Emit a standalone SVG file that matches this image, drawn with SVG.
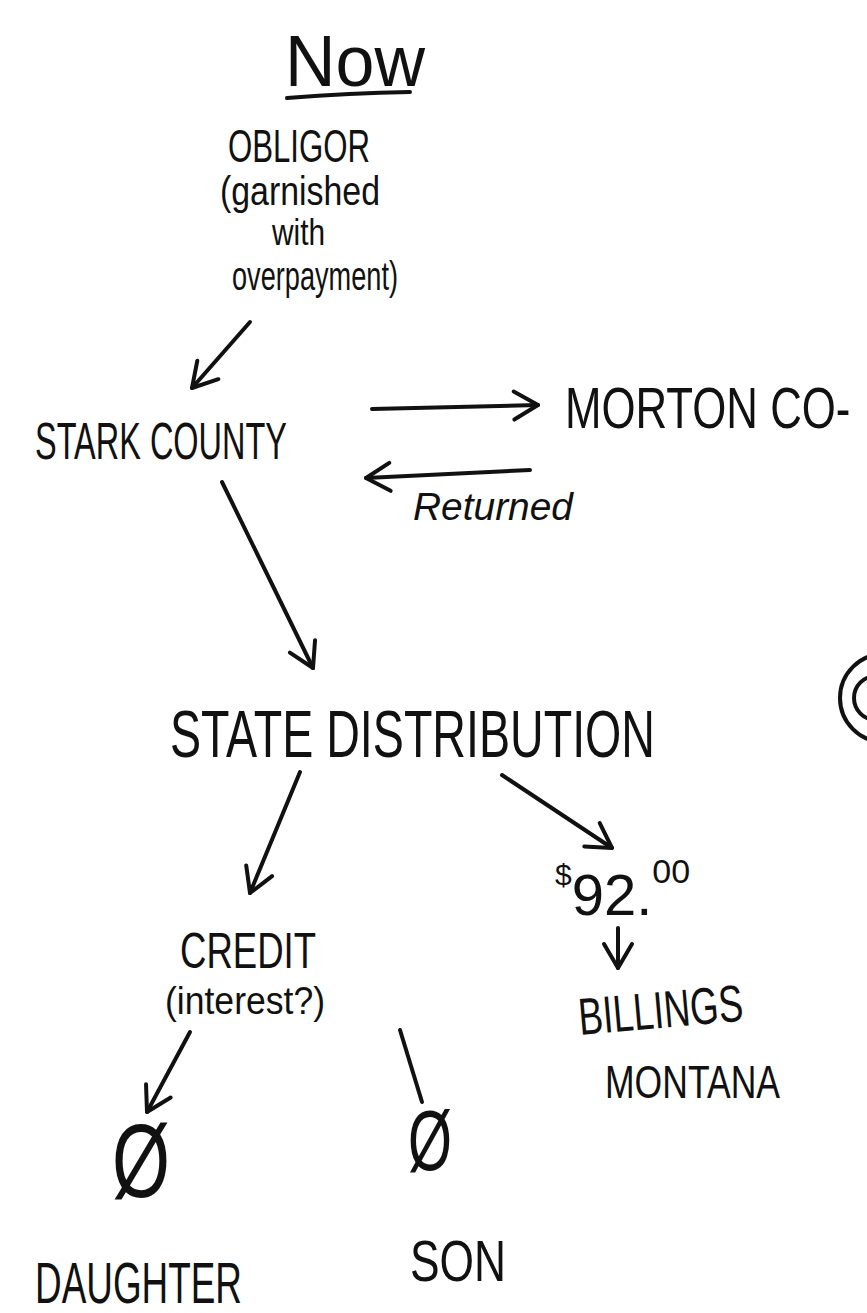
<svg xmlns="http://www.w3.org/2000/svg" width="867" height="1313" viewBox="0 0 867 1313">
<style>
text{font-family:"Liberation Sans",Arial,sans-serif;fill:#111;}
.c{stroke:#111;stroke-width:4;fill:none;stroke-linecap:round;}
.arr{marker-end:url(#ah);}
</style>
<defs>
<marker id="ah" markerUnits="userSpaceOnUse" viewBox="-30 -20 36 40" refX="0" refY="0" markerWidth="36" markerHeight="40" orient="auto">
<path d="M-24,-14 L0,0 L-24,14" fill="none" stroke="#111" stroke-width="4" stroke-linecap="round" stroke-linejoin="round"/>
</marker>
</defs>
<rect width="867" height="1313" fill="#fff"/>
<g id="title">
<text x="285" y="86" font-size="72" textLength="140" lengthAdjust="spacingAndGlyphs">Now</text>
<path class="c" d="M287,98 Q350,93 410,92"/>
</g>
<g id="obligor">
<text x="228" y="162" font-size="47" textLength="142" lengthAdjust="spacingAndGlyphs">OBLIGOR</text>
<text x="220" y="205" font-size="40" textLength="160" lengthAdjust="spacingAndGlyphs">(garnished</text>
<text x="272" y="245" font-size="36" textLength="53" lengthAdjust="spacingAndGlyphs">with</text>
<text x="232" y="290" font-size="40" textLength="166" lengthAdjust="spacingAndGlyphs">overpayment)</text>
</g>
<g id="stark">
<text x="35" y="459" font-size="52" textLength="252" lengthAdjust="spacingAndGlyphs">STARK COUNTY</text>
</g>
<g id="morton">
<text x="0" y="0" font-size="58" transform="translate(565,428) scale(0.755,1)">MORTON CO-</text>
</g>
<g id="state">
<text x="170" y="757" font-size="66" textLength="485" lengthAdjust="spacingAndGlyphs">STATE DISTRIBUTION</text>
</g>
<g id="credit">
<text x="180" y="968" font-size="50" textLength="136" lengthAdjust="spacingAndGlyphs">CREDIT</text>
<text x="165" y="1014" font-size="38" textLength="160" lengthAdjust="spacingAndGlyphs">(interest?)</text>
</g>
<g id="amount">
<text x="555" y="915" font-size="58"><tspan font-size="30" dy="-30">$</tspan><tspan dy="30">92.</tspan><tspan font-size="34" dy="-32">00</tspan></text>
</g>
<g id="billings">
<text x="580" y="1035" font-size="52" textLength="165" lengthAdjust="spacingAndGlyphs" transform="rotate(-5 580 1035)">BILLINGS</text>
<text x="605" y="1098" font-size="46" textLength="175" lengthAdjust="spacingAndGlyphs">MONTANA</text>
</g>
<g id="daughter">
<text x="112" y="1197" font-size="104" textLength="58" lengthAdjust="spacingAndGlyphs">Ø</text>
<text x="35" y="1303" font-size="58" textLength="207" lengthAdjust="spacingAndGlyphs">DAUGHTER</text>
</g>
<g id="son">
<text x="408" y="1170" font-size="86" textLength="44" lengthAdjust="spacingAndGlyphs">Ø</text>
<text x="410" y="1281" font-size="58" textLength="96" lengthAdjust="spacingAndGlyphs">SON</text>
</g>
<g id="mark">
<circle cx="884" cy="698" r="44" class="c" stroke-width="5"/>
<circle cx="876" cy="698" r="22" class="c" stroke-width="5"/>
</g>
<g id="connectors">
<line class="c arr" x1="250" y1="322" x2="192" y2="388"/>
<line class="c arr" x1="372" y1="409" x2="538" y2="405"/>
<line class="c arr" x1="530" y1="470" x2="366" y2="478"/>
<text x="413" y="520" font-size="38" font-style="italic" textLength="160" lengthAdjust="spacingAndGlyphs">Returned</text>
<line class="c arr" x1="222" y1="482" x2="313" y2="668"/>
<line class="c arr" x1="300" y1="772" x2="250" y2="893"/>
<line class="c arr" x1="502" y1="775" x2="612" y2="848"/>
<line class="c arr" x1="618" y1="928" x2="618" y2="968"/>
<line class="c arr" x1="190" y1="1032" x2="147" y2="1112"/>
<line class="c" x1="400" y1="1030" x2="422" y2="1102"/>
</g>
</svg>
